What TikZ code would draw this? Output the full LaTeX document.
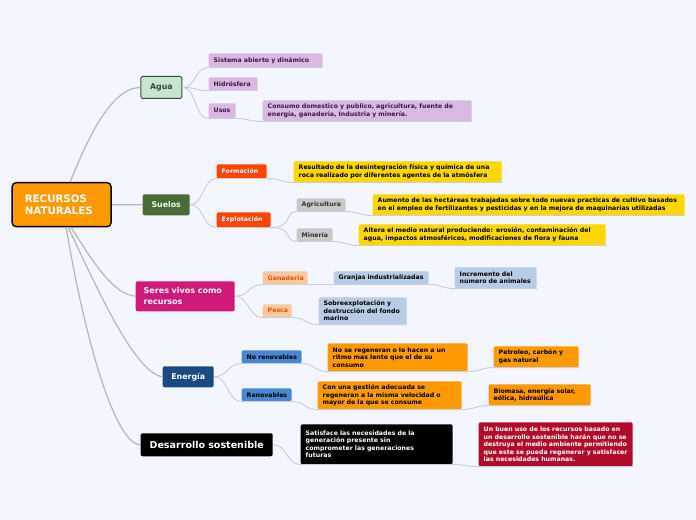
\documentclass[tikz,border=0pt]{standalone}
\usepackage{fontspec}
\setmainfont{DejaVu Sans}
\usetikzlibrary{positioning}
\usetikzlibrary{calc}
\definecolor{pagebg}{HTML}{F4F6FF}
\definecolor{mainline}{HTML}{B4B6BB}
\definecolor{subline}{HTML}{CBCED6}
\definecolor{lila}{HTML}{D9B8E2}
\definecolor{lilatext}{HTML}{3A1A4A}
\definecolor{bluegrey}{HTML}{B8CCE6}
\definecolor{peach}{HTML}{F8C9A0}
\definecolor{redorange}{HTML}{FF4500}
\definecolor{orangebox}{HTML}{FF9900}
\definecolor{goldbox}{HTML}{FFD700}
\definecolor{greybox}{HTML}{C8C8C8}
\definecolor{aguafill}{HTML}{C6E5CC}
\definecolor{aguadark}{HTML}{2E4F38}
\definecolor{suelosfill}{HTML}{4A6B35}
\definecolor{seresfill}{HTML}{CF1A7A}
\definecolor{energiafill}{HTML}{1A4A80}
\definecolor{renovfill}{HTML}{4A86D4}
\definecolor{buenfill}{HTML}{B00B2A}
\begin{document}
\begin{tikzpicture} [
            x=0.75pt,y=-0.75pt,
            box/.style 2 args={rectangle,rounded corners=1.5pt,anchor=north west,align=left,xshift=-0.4pt,
               inner xsep=3.75pt,inner ysep=0pt,font=\bfseries\fontsize{4.66}{5.6}\selectfont,
               text width=#1*0.75pt-7.5pt,minimum height=#2*0.75pt},
            topic/.style={font=\bfseries\fontsize{5.9}{8}\selectfont,align=center},
            mainln/.style={mainline,line width=.9pt},
            subln/.style={subline,line width=0.7pt}]
\fill[pagebg] (0,0) rectangle (696,520);
\useasboundingbox (0,0) rectangle (696,520);

\node (root) at (12,182) [box={99}{44},draw=black,line width=1pt,fill=orangebox,text=white,font=\bfseries\fontsize{7.7}{9}\selectfont,inner xsep=9.5pt,text width=99*0.75pt-19pt,rounded corners=3pt] {RECURSOS\\NATURALES}
node (agua) at (141,76) [box={41}{22},topic,draw=aguadark,line width=.7pt,fill=aguafill,text=aguadark] {Agua}
node (suelos) at (143,194) [box={47}{21},topic,fill=suelosfill,text=white!90!green] {Suelos}
node (seres) at (136,281) [box={99}{30},fill=seresfill,text=white,inner xsep=6pt,text width=99*0.75pt-12pt,font=\bfseries\fontsize{6}{8}\selectfont] {Seres vivos como\\recursos}
node (energia) at (163,366) [box={51}{21},topic,fill=energiafill,text=white] {Energía}
node (desarrollo) at (141,433) [box={132}{23},topic,fill=black,text=white,font=\bfseries\fontsize{7.15}{9}\selectfont] {Desarrollo sostenible}

node (sistema) at (209,53) [box={114}{14},fill=lila,text=lilatext] {Sistema abierto y dinámico}
node (hidro) at (209,77) [box={49}{13},fill=lila,text=lilatext] {Hidrósfera}
node (usos) at (209,103) [box={27}{15},fill=lila,text=lilatext] {Usos}
node (consumo) at (263,100) [box={209}{21},fill=lila,text=lilatext] {Consumo domestico y publico, agricultura, fuente de\\energía, ganaderia, Industria y minería.}

node (formacion) at (217,164) [box={50}{14},fill=redorange,text=white] {Formación}
node (resultado) at (294,161) [box={208}{21},fill=goldbox,text=black] {Resultado de la desintegración física y química de una\\roca realizado por diferentes agentes de la atmósfera}
node (explota) at (217,212) [box={54}{15},fill=redorange,text=white] {Explotación}
node (agri) at (297,198) [box={49}{13},fill=greybox,text=black!80] {Agricultura}
node (mineria) at (297,228) [box={36}{13},fill=greybox,text=black!80] {Minería}
node (aumento) at (373,194) [box={312}{21},fill=goldbox,text=black] {Aumento de las hectáreas trabajadas sobre todo nuevas practicas de cultivo basados\\en el empleo de fertilizantes y pesticidas y en la mejora de maquinarias utilizadas}
node (altera) at (359,224) [box={247}{21},fill=goldbox,text=black] {Altera el medio natural produciendo: erosión, contaminación del\\agua, impactos atmosféricos, modificaciones de flora y fauna}

node (ganaderia) at (263,271) [box={45}{13},fill=peach,text=redorange] {Ganadería}
node (pesca) at (263,304) [box={29}{13},fill=peach,text=redorange] {Pesca}
node (granjas) at (334,271) [box={95}{13},fill=bluegrey,text=black] {Granjas industrializadas}
node (incremento) at (455,267) [box={82}{21},fill=bluegrey,text=black] {Incremento del\\numero de animales}
node (sobre) at (319,297) [box={88}{27},fill=bluegrey,text=black] {Sobreexplotación y\\destrucción del fondo\\marino}

node (norenov) at (242,350) [box={60}{13},fill=renovfill,text=black] {\mbox{No renovables}}
node (renov) at (242,388) [box={50}{13},fill=renovfill,text=black] {Renovables}
node (nose) at (328,343) [box={140}{28},fill=orangebox,text=black] {No se regeneran o lo hacen a un\\ritmo mas lento que el de su\\consumo}
node (conuna) at (318,381) [box={144}{28},fill=orangebox,text=black] {Con una gestión adecuada se\\regeneran a la misma velocidad o\\mayor de la que se consume}
node (petroleo) at (494,346) [box={85}{21},fill=orangebox,text=black] {Petroleo, carbón y\\gas natural}
node (biomasa) at (489,384) [box={102}{21},fill=orangebox,text=black] {Biomasa, energía solar,\\eólica, hidraúlica}

node (satisface) at (301,424) [box={152}{40},fill=black,text=white] {Satisface las necesidades de la\\generación presente sin\\comprometer las generaciones\\futuras}
node (buenuso) at (479,422) [box={154}{44},fill=buenfill,text=white] {Un buen uso de los recursos basado en\\un desarrollo sostenible harán que no se\\destruya el medio ambiente permitiendo\\que este se pueda regenerar y satisfacer\\las necesidades humanas.}
 ;

\draw[mainln] ([xshift=6.4pt]root.north) .. controls +(15,-37) and +(-31,0) .. (agua.west);
\draw[mainln] (root.east) -- (suelos.west);
\draw[mainln] ([xshift=7pt]root.south) .. controls +(19,29) and +(-24,-2) .. (seres.west);
\draw[mainln] ([xshift=4.9pt]root.south) .. controls +(28,59) and +(-28,-4) .. (energia.west);
\draw[mainln] ([xshift=3.4pt]root.south) .. controls +(19,114) and +(-25,0) .. (desarrollo.west);

\draw[subln] (agua.east) .. controls +(14,0) and +(-14,0) .. (sistema.south west) -- (sistema.south east);
\draw[subln] (agua.east) .. controls +(14,0) and +(-14,0) .. (hidro.south west) -- (hidro.south east);
\draw[subln] (agua.east) .. controls +(14,0) and +(-14,0) .. (usos.south west) -- (usos.south east) .. controls +(13,0) and +(-13,0) .. (consumo.south west) -- (consumo.south east);

\draw[subln] (suelos.east) .. controls +(14,0) and +(-14,0) .. (formacion.south west) -- (formacion.south east) .. controls +(13,0) and +(-13,0) .. (resultado.south west) -- (resultado.south east);
\draw[subln] (suelos.east) .. controls +(14,0) and +(-14,0) .. (explota.south west) -- (explota.south east);
\draw[subln] (explota.south east) .. controls +(22,0) and +(-12,0) .. (agri.south west) -- (agri.south east) .. controls +(13,0) and +(-13,0) .. (aumento.south west) -- (aumento.south east);
\draw[subln] (explota.south east) .. controls +(22,0) and +(-12,0) .. (mineria.south west) -- (mineria.south east) .. controls +(13,0) and +(-13,0) .. (altera.south west) -- (altera.south east);

\draw[subln] (seres.east) .. controls +(14,0) and +(-14,0) .. (ganaderia.south west) -- (ganaderia.south east) -- (granjas.south west) -- (granjas.south east) .. controls +(13,0) and +(-13,0) .. (incremento.south west) -- (incremento.south east);
\draw[subln] (seres.east) .. controls +(14,0) and +(-14,0) .. (pesca.south west) -- (pesca.south east) .. controls +(13,0) and +(-13,0) .. (sobre.south west) -- (sobre.south east);

\draw[subln] (energia.east) .. controls +(14,0) and +(-14,0) .. (norenov.south west) -- (norenov.south east) .. controls +(13,0) and +(-13,0) .. (nose.south west) -- (nose.south east) .. controls +(13,0) and +(-13,0) .. (petroleo.south west) -- (petroleo.south east);
\draw[subln] (energia.east) .. controls +(14,0) and +(-14,0) .. (renov.south west) -- (renov.south east) .. controls +(13,0) and +(-13,0) .. (conuna.south west) -- (conuna.south east) .. controls +(13,0) and +(-13,0) .. (biomasa.south west) -- (biomasa.south east);

\draw[subln] (desarrollo.east) .. controls +(14,0) and +(-14,0) .. (satisface.south west) -- (satisface.south east) .. controls +(13,0) and +(-13,0) .. (buenuso.south west) -- (buenuso.south east);
\end{tikzpicture}
\end{document}
